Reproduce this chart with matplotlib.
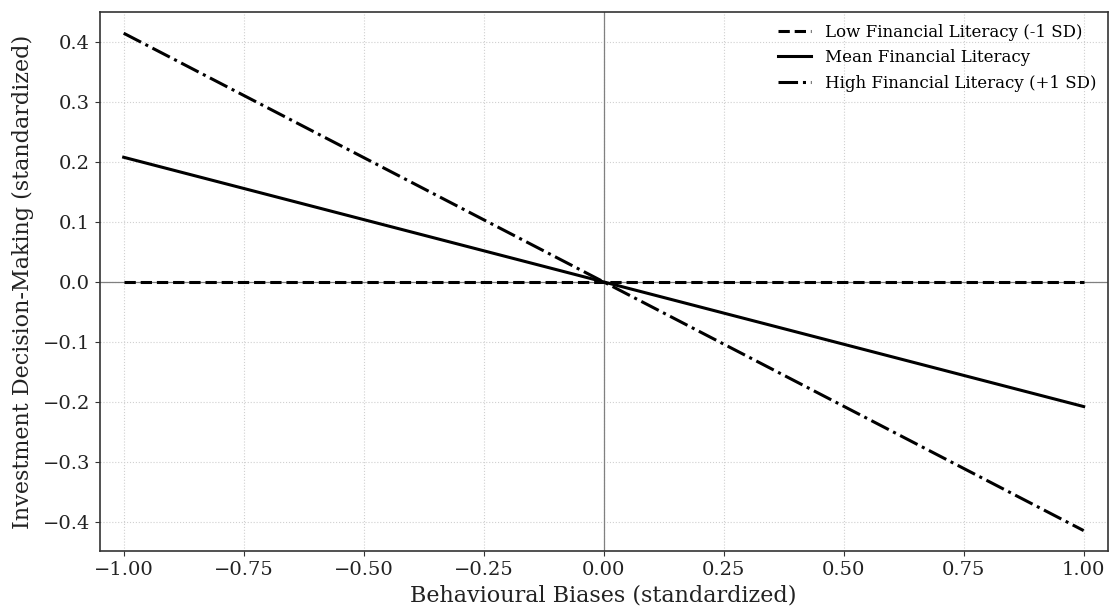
import matplotlib
matplotlib.use("Agg")
from matplotlib import pyplot as plt

# simple slopes: behavioural biases -> investment decision-making
bias_x = [-1.0, 1.0]
low_fl = [0.0, 0.0]
mean_fl = [0.208, -0.208]
high_fl = [0.415, -0.415]
labels = ["Low Financial Literacy (-1 SD)",
          "Mean Financial Literacy",
          "High Financial Literacy (+1 SD)"]

plt.rcParams['font.family'] = ['DejaVu Serif']

fig, ax = plt.subplots(figsize=(11.2, 6.12), dpi=100)
fig.subplots_adjust(left=0.089, right=0.989, top=0.980, bottom=0.0997)

ax.axhline(0, color='grey', linewidth=0.9, zorder=1)
ax.axvline(0, color='grey', linewidth=0.9, zorder=1)

ax.plot(bias_x, low_fl, color='black', linestyle='--', linewidth=2.2, label=labels[0])
ax.plot(bias_x, mean_fl, color='black', linestyle='-', linewidth=2.2, label=labels[1])
ax.plot(bias_x, high_fl, color='black', linestyle='-.', linewidth=2.2, label=labels[2])

ax.set_xlim(-1.05, 1.05)
ax.set_ylim(-0.449, 0.450)
ax.set_xticks([-1.0, -0.75, -0.5, -0.25, 0.0, 0.25, 0.5, 0.75, 1.0])
ax.set_yticks([-0.4, -0.3, -0.2, -0.1, 0.0, 0.1, 0.2, 0.3, 0.4])
ax.grid(True, linestyle=':', color='#d0d0d0', linewidth=0.8)
ax.set_axisbelow(True)

ax.set_xlabel('Behavioural Biases (standardized)', fontsize=16, color='#222222')
ax.set_ylabel('Investment Decision-Making (standardized)', fontsize=16, color='#222222',
              labelpad=6)
ax.tick_params(labelsize=14, color='#333333', labelcolor='#222222')
for sp in ax.spines.values():
    sp.set_color('#333333')
    sp.set_linewidth(1.2)

ax.legend(loc='upper right', frameon=False, fontsize=12, borderaxespad=0.3)

fig.savefig('out.png', dpi=100)
